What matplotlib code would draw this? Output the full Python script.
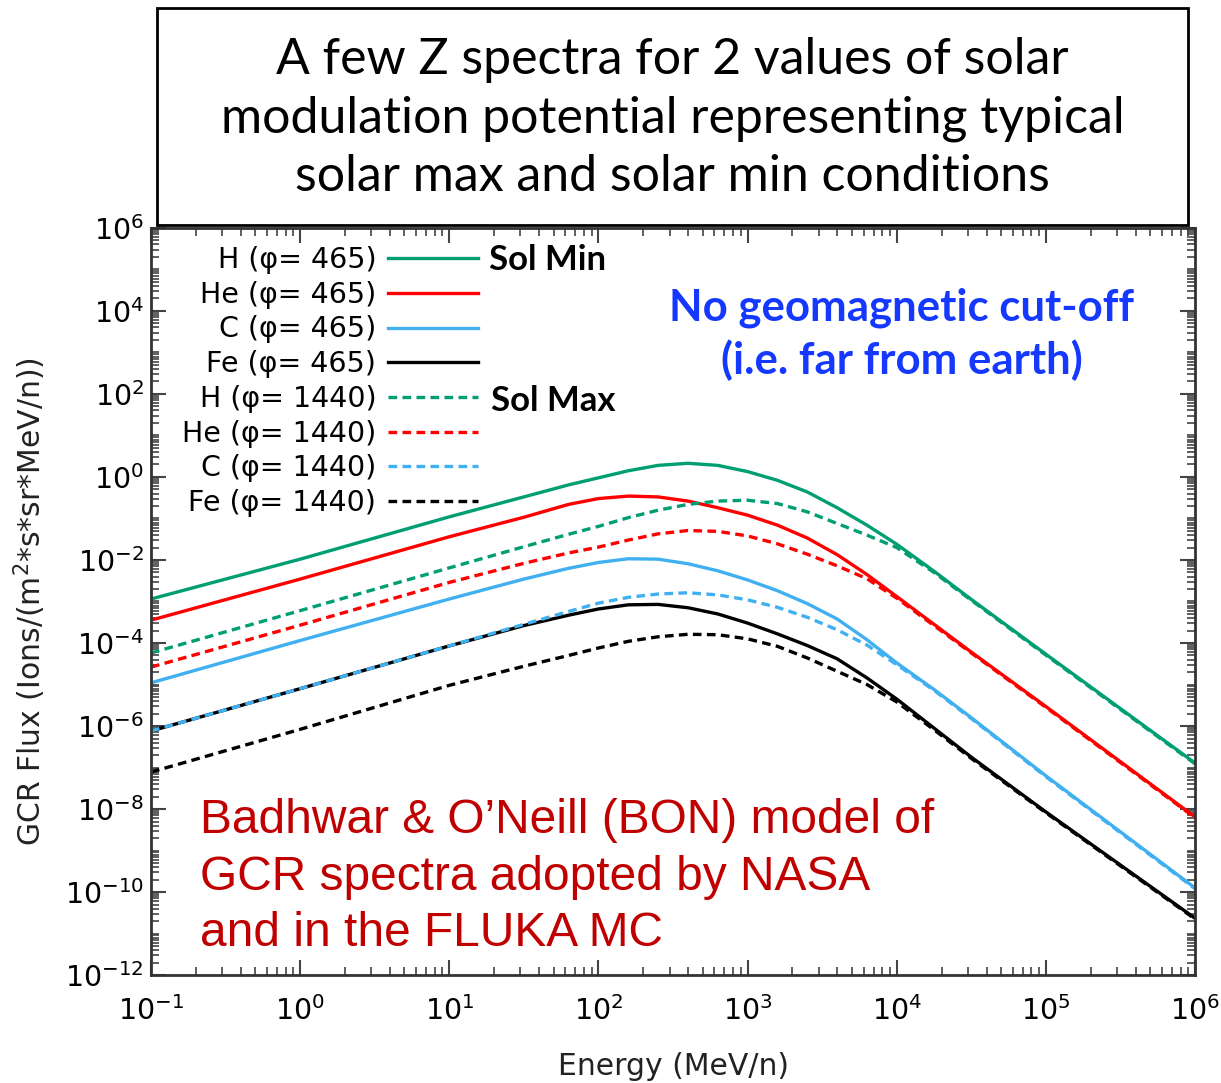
import numpy as np
import matplotlib
matplotlib.use("Agg")
import matplotlib.pyplot as plt
from matplotlib.patches import Rectangle
from matplotlib.ticker import LogLocator, NullFormatter

# energy grid (log10 MeV/n) and log10 flux
log_e = [-1, 0, 1, 1.5, 1.8, 2.0, 2.2, 2.4, 2.6, 2.8, 3.0, 3.2, 3.4, 3.6, 3.8, 4.0, 4.25, 4.5, 5, 6]

h_min = [-2.94, -1.98, -0.96, -0.48, -0.19, -0.02, 0.15, 0.28, 0.33, 0.28, 0.13, -0.08, -0.36, -0.74, -1.16, -1.62, -2.27, -2.95, -4.27, -6.89]
he_min = [-3.45, -2.46, -1.44, -0.97, -0.66, -0.52, -0.46, -0.48, -0.58, -0.74, -0.92, -1.16, -1.47, -1.87, -2.35, -2.88, -3.55, -4.22, -5.53, -8.19]
c_min = [-4.96, -3.94, -2.94, -2.46, -2.20, -2.06, -1.97, -1.98, -2.09, -2.26, -2.48, -2.74, -3.05, -3.42, -3.92, -4.48, -5.12, -5.8, -7.2, -9.9]
fe_min = [-6.12, -5.1, -4.07, -3.58, -3.33, -3.18, -3.08, -3.07, -3.15, -3.30, -3.52, -3.78, -4.06, -4.38, -4.84, -5.35, -6.05, -6.75, -8.07, -10.63]

h_max = [-4.24, -3.22, -2.19, -1.68, -1.38, -1.19, -0.98, -0.80, -0.66, -0.58, -0.56, -0.64, -0.84, -1.12, -1.40, -1.70, -2.30, -2.97, -4.29, -6.91]
he_max = [-4.58, -3.57, -2.54, -2.08, -1.83, -1.69, -1.52, -1.37, -1.29, -1.31, -1.42, -1.61, -1.86, -2.14, -2.45, -2.92, -3.58, -4.24, -5.55, -8.21]
c_max = [-6.12, -5.1, -4.07, -3.55, -3.24, -3.04, -2.90, -2.82, -2.79, -2.84, -2.96, -3.14, -3.38, -3.68, -4.05, -4.52, -5.14, -5.82, -7.22, -9.92]
fe_max = [-7.11, -6.08, -5.02, -4.56, -4.30, -4.12, -3.96, -3.85, -3.79, -3.80, -3.90, -4.08, -4.36, -4.68, -5.0, -5.42, -6.09, -6.78, -8.09, -10.65]

labels_min = ["H (φ= 465)", "He (φ= 465)", "C (φ= 465)", "Fe (φ= 465)"]
labels_max = ["H (φ= 1440)", "He (φ= 1440)", "C (φ= 1440)", "Fe (φ= 1440)"]
colors = ["#009E73", "#FF0000", "#40B0F0", "#000000"]

E = 10.0 ** np.array(log_e)

fig = plt.figure(figsize=(12.21, 10.83), dpi=100)
ax = fig.add_axes([0.1237, 0.0997, 0.855, 0.6898])

dash = (0, (2.6, 1.6))
for y, lab, c in zip([h_min, he_min, c_min, fe_min], labels_min, colors):
    ax.plot(E, 10.0 ** np.array(y), color=c, lw=2.4, label=lab)
for y, lab, c in zip([h_max, he_max, c_max, fe_max], labels_max, colors):
    ax.plot(E, 10.0 ** np.array(y), color=c, lw=2.4, ls=dash, label=lab)

ax.set_xscale("log")
ax.set_yscale("log")
ax.set_xlim(1e-1, 1e6)
ax.set_ylim(1e-12, 1e6)
ax.set_xticks([10.0 ** k for k in range(-1, 7)])
ax.set_yticks([10.0 ** k for k in range(-12, 7, 2)])
ax.yaxis.set_minor_locator(LogLocator(base=10, subs=np.arange(1, 10), numticks=100))
ax.yaxis.set_minor_formatter(NullFormatter())
ax.xaxis.set_minor_locator(LogLocator(base=10, subs=np.arange(2, 10), numticks=100))
ax.xaxis.set_minor_formatter(NullFormatter())

ax.tick_params(which="both", direction="in", top=True, right=True, colors="#444444",
               labelcolor="black", labelsize=20.5)
ax.tick_params(which="major", length=11, width=1.5)
ax.tick_params(which="minor", length=6, width=1.2)
ax.tick_params(axis="x", which="major", pad=15)
ax.tick_params(axis="y", which="major", pad=5)
for s in ax.spines.values():
    s.set_linewidth(2)
    s.set_color("#333333")

ax.set_xlabel("Energy (MeV/n)", fontsize=21.5, labelpad=19, color="#222222")
ax.set_ylabel("GCR Flux (Ions/(m$^2$*s*sr*MeV/n))", fontsize=21.5, labelpad=12, color="#222222")

leg = ax.legend(loc="upper right", bbox_to_anchor=(0.324, 0.991), frameon=False,
                markerfirst=False, fontsize=20.5, handlelength=3.15, handletextpad=0.42,
                labelspacing=0.235, borderaxespad=0)

ax.text(0.324, 0.957, "Sol Min", transform=ax.transAxes, fontsize=25, fontweight="bold",
        family="Lato", va="center", ha="left")
ax.text(0.326, 0.769, "Sol Max", transform=ax.transAxes, fontsize=25, fontweight="bold",
        family="Lato", va="center", ha="left")
ax.text(0.719, 0.858, "No geomagnetic cut-off\n(i.e. far from earth)", transform=ax.transAxes,
        fontsize=31.5, fontweight="bold", family="Lato", color="#1538FF", ha="center",
        va="center", linespacing=1.34)
ax.text(0.047, 0.131, "Badhwar & O’Neill (BON) model of\nGCR spectra adopted by NASA\nand in the FLUKA MC",
        transform=ax.transAxes, fontsize=34.5, family="Liberation Sans", color="#C00000",
        ha="left", va="center", linespacing=1.33)

# title box above the axes
fig.add_artist(Rectangle((0.1286, 0.7922), 0.8444, 0.2004, transform=fig.transFigure,
                         facecolor="white", edgecolor="black", lw=2))
fig.text(0.5508, 0.8905, "A few Z spectra for 2 values of solar\nmodulation potential representing typical\nsolar max and solar min conditions",
         ha="center", va="center", fontsize=36, family="Lato", linespacing=1.34)

fig.savefig("out.png", dpi=100)
